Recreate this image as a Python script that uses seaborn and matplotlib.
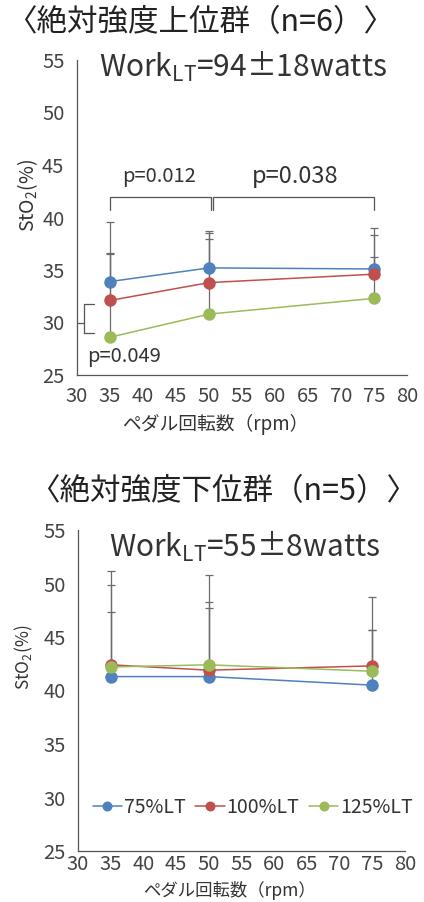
import numpy as np
import pandas as pd
import matplotlib
matplotlib.use("Agg")
import matplotlib.pyplot as plt
import seaborn as sns

# Cadence (rpm) and intensity conditions
cadence = [35, 50, 75]
conditions = ["75%LT", "100%LT", "125%LT"]
colors = ["#4F81BD", "#C0504D", "#9BBB59"]

# Upper group (n=6): mean StO2 (%) and upper SD bar ends
high_75 = [33.9, 35.2, 35.1]
high_100 = [32.1, 33.8, 34.6]
high_125 = [28.6, 30.8, 32.3]
high_75_top = [39.6, 38.7, 39.0]
high_100_top = [36.6, 38.5, 38.3]
high_125_top = [36.5, 38.0, 36.2]

# Lower group (n=5)
low_75 = [41.3, 41.3, 40.5]
low_100 = [42.4, 41.9, 42.3]
low_125 = [42.2, 42.4, 41.8]
low_75_top = [47.3, 47.7, 45.7]
low_100_top = [51.2, 50.8, 48.7]
low_125_top = [49.9, 48.3, 45.7]

titles = ["〈絶対強度上位群（n=6）〉", "〈絶対強度下位群（n=5）〉"]
work_texts = ["Work$_{\\mathregular{LT}}$=94±18watts", "Work$_{\\mathregular{LT}}$=55±8watts"]
xlabel = "ペダル回転数（rpm）"
ylabel = "StO$_\\mathregular{2}$(%)"
xticks = list(range(30, 81, 5))
yticks = list(range(25, 56, 5))

sns.set_theme(style="white")
plt.rcParams["font.family"] = ["Noto Sans CJK JP", "DejaVu Sans"]
plt.rcParams["mathtext.default"] = "regular"

TXT = "#333333"
W, H = 424, 902
fig = plt.figure(figsize=(W / 100, H / 100), dpi=100)
fig.patch.set_facecolor("white")


def px_axes(left, right, top, bottom):
    return fig.add_axes([left / W, (H - bottom) / H, (right - left) / W, (bottom - top) / H])


def draw_panel(ax, means, tops, legend, ylab_size, xlab_size, xpad):
    rows = []
    for cond, vals in zip(conditions, means):
        for c, v in zip(cadence, vals):
            rows.append({"cadence": c, "StO2": v, "condition": cond})
    df = pd.DataFrame(rows)
    # upper-only SD bars behind the markers
    for vals, top in zip(means, tops):
        vals = np.array(vals)
        top = np.array(top)
        ax.errorbar(cadence, vals, yerr=[np.zeros_like(vals), top - vals], fmt="none",
                    ecolor="#6b6b6b", elinewidth=0.9, capsize=3, capthick=0.9, zorder=1)
    sns.lineplot(data=df, x="cadence", y="StO2", hue="condition", hue_order=conditions,
                 palette=colors, marker="o", markersize=9, markeredgewidth=0,
                 linewidth=1.1, ax=ax, legend=legend, zorder=3)
    ax.set_xlim(30, 80)
    ax.set_ylim(25, 55)
    ax.set_xticks(xticks)
    ax.set_yticks(yticks)
    ax.tick_params(axis="both", direction="in", length=4, width=0.8, color="#444444",
                   labelsize=14.5, labelcolor="#444444")
    ax.tick_params(axis="x", pad=xpad)
    ax.tick_params(axis="y", pad=9)
    for s in ["top", "right"]:
        ax.spines[s].set_visible(False)
    for s in ["left", "bottom"]:
        ax.spines[s].set_color("#555555")
        ax.spines[s].set_linewidth(0.9)
    ax.set_xlabel(xlabel, fontsize=xlab_size, color=TXT)
    ax.set_ylabel(ylabel, fontsize=ylab_size, color=TXT)
    ax.set_facecolor("white")


ax1 = px_axes(77, 407, 60, 375)
draw_panel(ax1, [high_75, high_100, high_125], [high_75_top, high_100_top, high_125_top],
           False, 14, 13.5, 8)
ax1.yaxis.set_label_coords(-0.112, 0.571)
ax1.xaxis.set_label_coords(0.42, -0.124)
ax1.text(55.2, 54.3, work_texts[0], ha="center", va="center", fontsize=21.5, color=TXT)

# significance brackets
bk = dict(color="#555555", lw=0.9)
ax1.plot([35, 35, 50.3, 50.3], [40.7, 42.0, 42.0, 40.7], **bk)
ax1.plot([50.6, 50.6, 75, 75], [40.7, 42.0, 42.0, 40.7], **bk)
ax1.text(42.5, 43.9, "p=0.012", ha="center", va="center", fontsize=14.5, color=TXT)
ax1.text(63.0, 43.9, "p=0.038", ha="center", va="center", fontsize=17, color=TXT)
ax1.plot([32.5, 31.0, 31.0, 32.5], [31.8, 31.8, 29.0, 29.0], clip_on=False, **bk)
ax1.plot([30.2, 31.0], [30.0, 30.0], clip_on=False, **bk)
ax1.text(31.5, 26.8, "p=0.049", ha="left", va="center", fontsize=14.5, color=TXT)

ax2 = px_axes(78, 405, 530, 851)
draw_panel(ax2, [low_75, low_100, low_125], [low_75_top, low_100_top, low_125_top],
           True, 12.5, 12.5, 2.5)
ax2.yaxis.set_label_coords(-0.13, 0.604)
ax2.xaxis.set_label_coords(0.462, -0.092)
ax2.text(55.5, 53.4, work_texts[1], ha="center", va="center", fontsize=21.5, color=TXT)
leg = ax2.legend(loc="center", bbox_to_anchor=(0.535, 0.137), ncol=3, frameon=False,
                 fontsize=14, handlelength=1.5, handletextpad=0.1, columnspacing=0.5,
                 markerscale=0.8)
for t in leg.get_texts():
    t.set_color(TXT)

fig.text(200 / W, 1 - 23 / H, titles[0], ha="center", va="center", fontsize=22, color="#222222")
fig.text(223 / W, 1 - 492 / H, titles[1], ha="center", va="center", fontsize=22, color="#222222")

fig.savefig("out.png", dpi=100, facecolor="white")
